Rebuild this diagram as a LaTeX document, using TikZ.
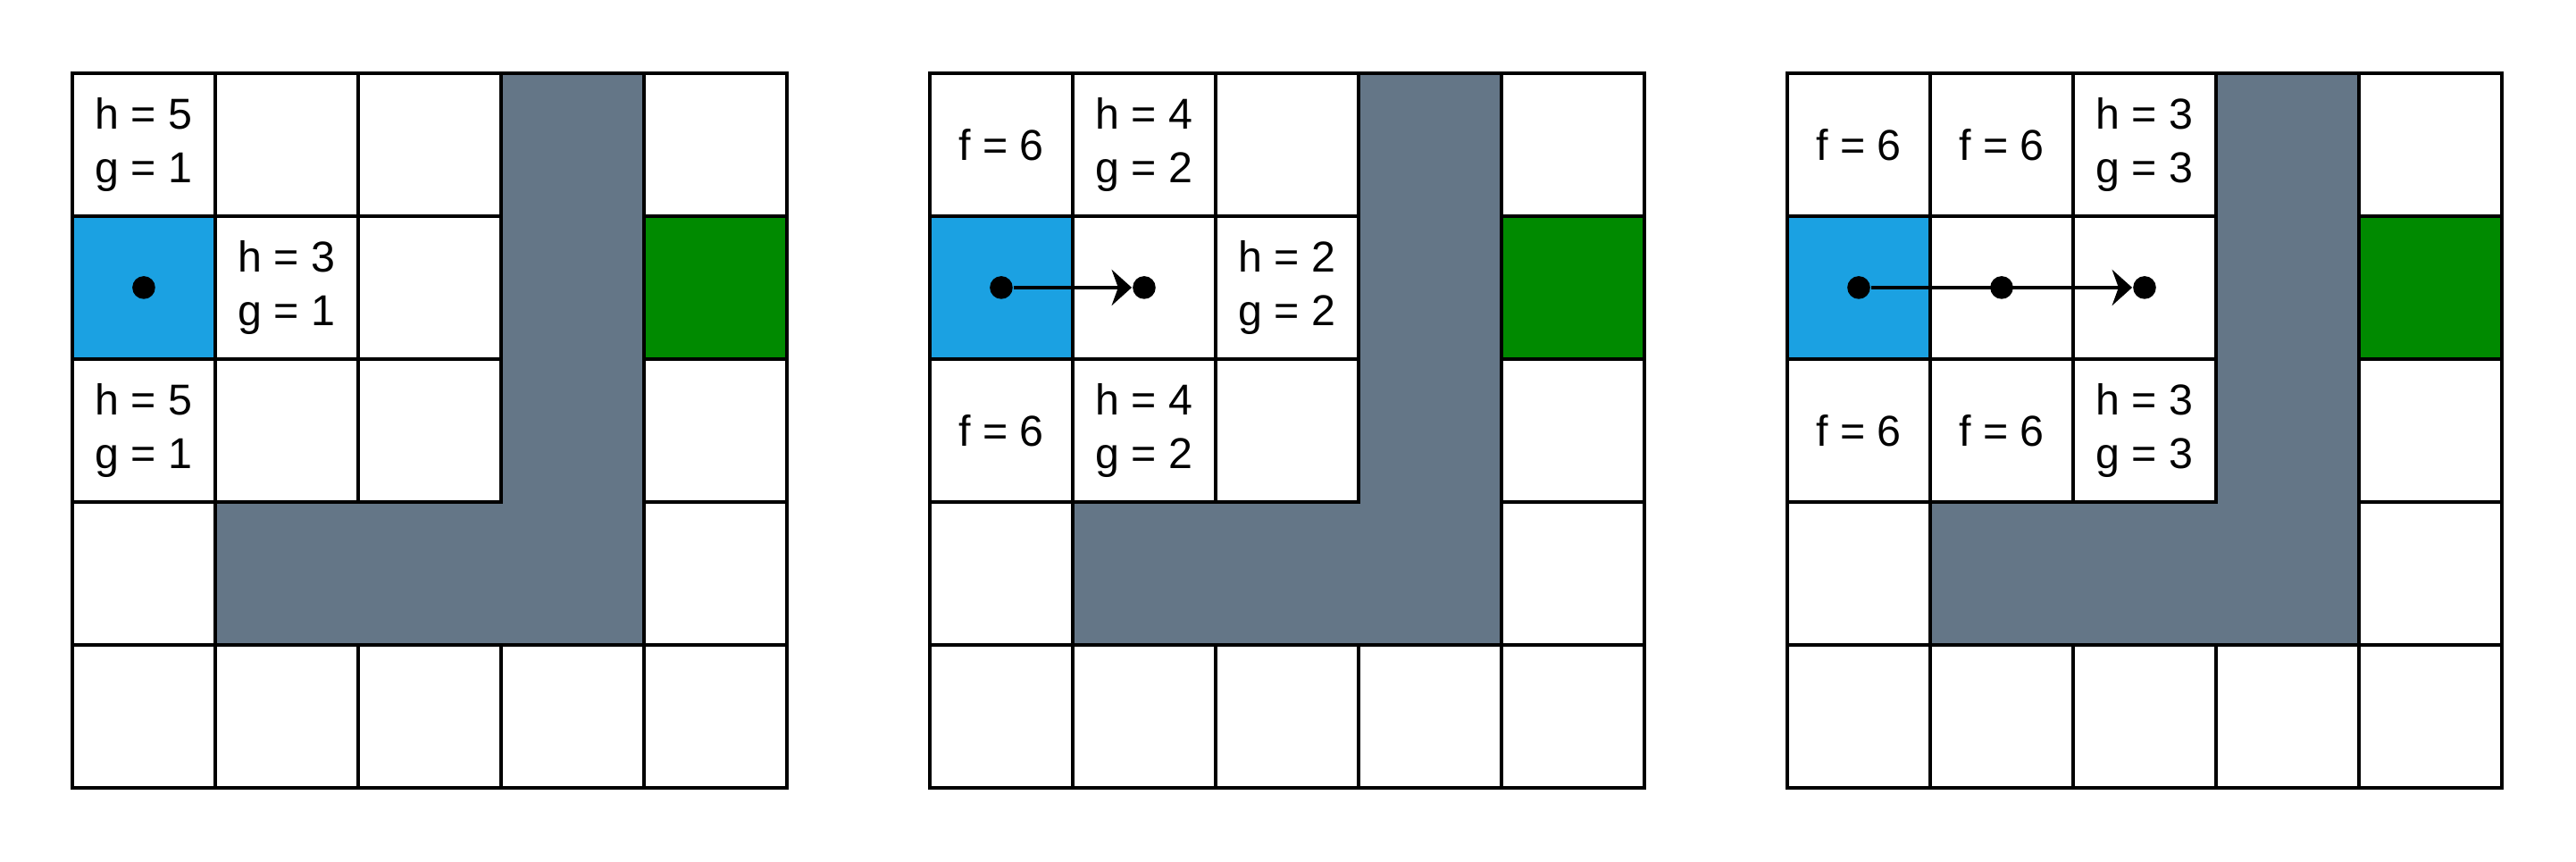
\documentclass[tikz,border=0pt]{standalone}
\usepackage{fontspec}
\setmainfont{Liberation Sans}
\usetikzlibrary{arrows.meta}

\definecolor{startblue}{HTML}{1BA1E2}
\definecolor{goalgreen}{HTML}{008A00}
\definecolor{wallgray}{HTML}{647687}

\tikzset{
  cell/.style={draw, line width=0.7pt, minimum size=1cm, inner sep=0pt, outer sep=0pt},
  cost/.style={font=\fontsize{8.6}{10.7}\selectfont, align=center, inner sep=0pt},
  dot/.style={circle, fill=black, inner sep=0pt, minimum size=0.16cm},
  wall/.style={fill=wallgray, draw=black, line width=0.7pt},
  move/.style={-{Stealth[length=0.14cm, width=0.25cm, inset=0.045cm]}, line width=0.7pt},
}

\begin{document}
\begin{tikzpicture}
  \useasboundingbox (-0.506,-0.513) rectangle (17.519,5.512);

  % three 5x5 grids
  \foreach \g/\ox in {a/0, b/6, c/12} {
    \foreach \r in {0,...,4} {
      \foreach \c in {0,...,4} {
        \node[cell] (\g-\r-\c) at (\ox+\c+0.5, 4.5-\r) {};
      }
    }
    \draw[fill=startblue, line width=0.7pt] (\g-1-0.south west) rectangle (\g-1-0.north east);
    \draw[fill=goalgreen, line width=0.7pt] (\g-1-4.south west) rectangle (\g-1-4.north east);
    \draw[wall] (\ox+3,5) -- (\ox+4,5) -- (\ox+4,1) -- (\ox+1,1) -- (\ox+1,2) -- (\ox+3,2) -- cycle;
  }

  % grid a
  \node[cost] (a-h1) at (a-0-0) {h = 5\\g = 1};
  \node[cost] (a-h2) at (a-1-1) {h = 3\\g = 1};
  \node[cost] (a-h3) at (a-2-0) {h = 5\\g = 1};
  \node[dot] (a-s) at (a-1-0) {};

  % grid b
  \node[cost] (b-f1) at (b-0-0) {f = 6};
  \node[cost] (b-h1) at (b-0-1) {h = 4\\g = 2};
  \node[cost] (b-h2) at (b-1-2) {h = 2\\g = 2};
  \node[cost] (b-f2) at (b-2-0) {f = 6};
  \node[cost] (b-h3) at (b-2-1) {h = 4\\g = 2};
  \node[dot] (b-s) at (b-1-0) {};
  \node[dot] (b-n) at (b-1-1) {};
  \draw[move] (b-s) -- (b-n);

  % grid c
  \node[cost] (c-f1) at (c-0-0) {f = 6};
  \node[cost] (c-f2) at (c-0-1) {f = 6};
  \node[cost] (c-h1) at (c-0-2) {h = 3\\g = 3};
  \node[cost] (c-f3) at (c-2-0) {f = 6};
  \node[cost] (c-f4) at (c-2-1) {f = 6};
  \node[cost] (c-h2) at (c-2-2) {h = 3\\g = 3};
  \node[dot] (c-s) at (c-1-0) {};
  \node[dot] (c-m) at (c-1-1) {};
  \node[dot] (c-n) at (c-1-2) {};
  \draw[move] (c-s) -- (c-n);
\end{tikzpicture}
\end{document}
